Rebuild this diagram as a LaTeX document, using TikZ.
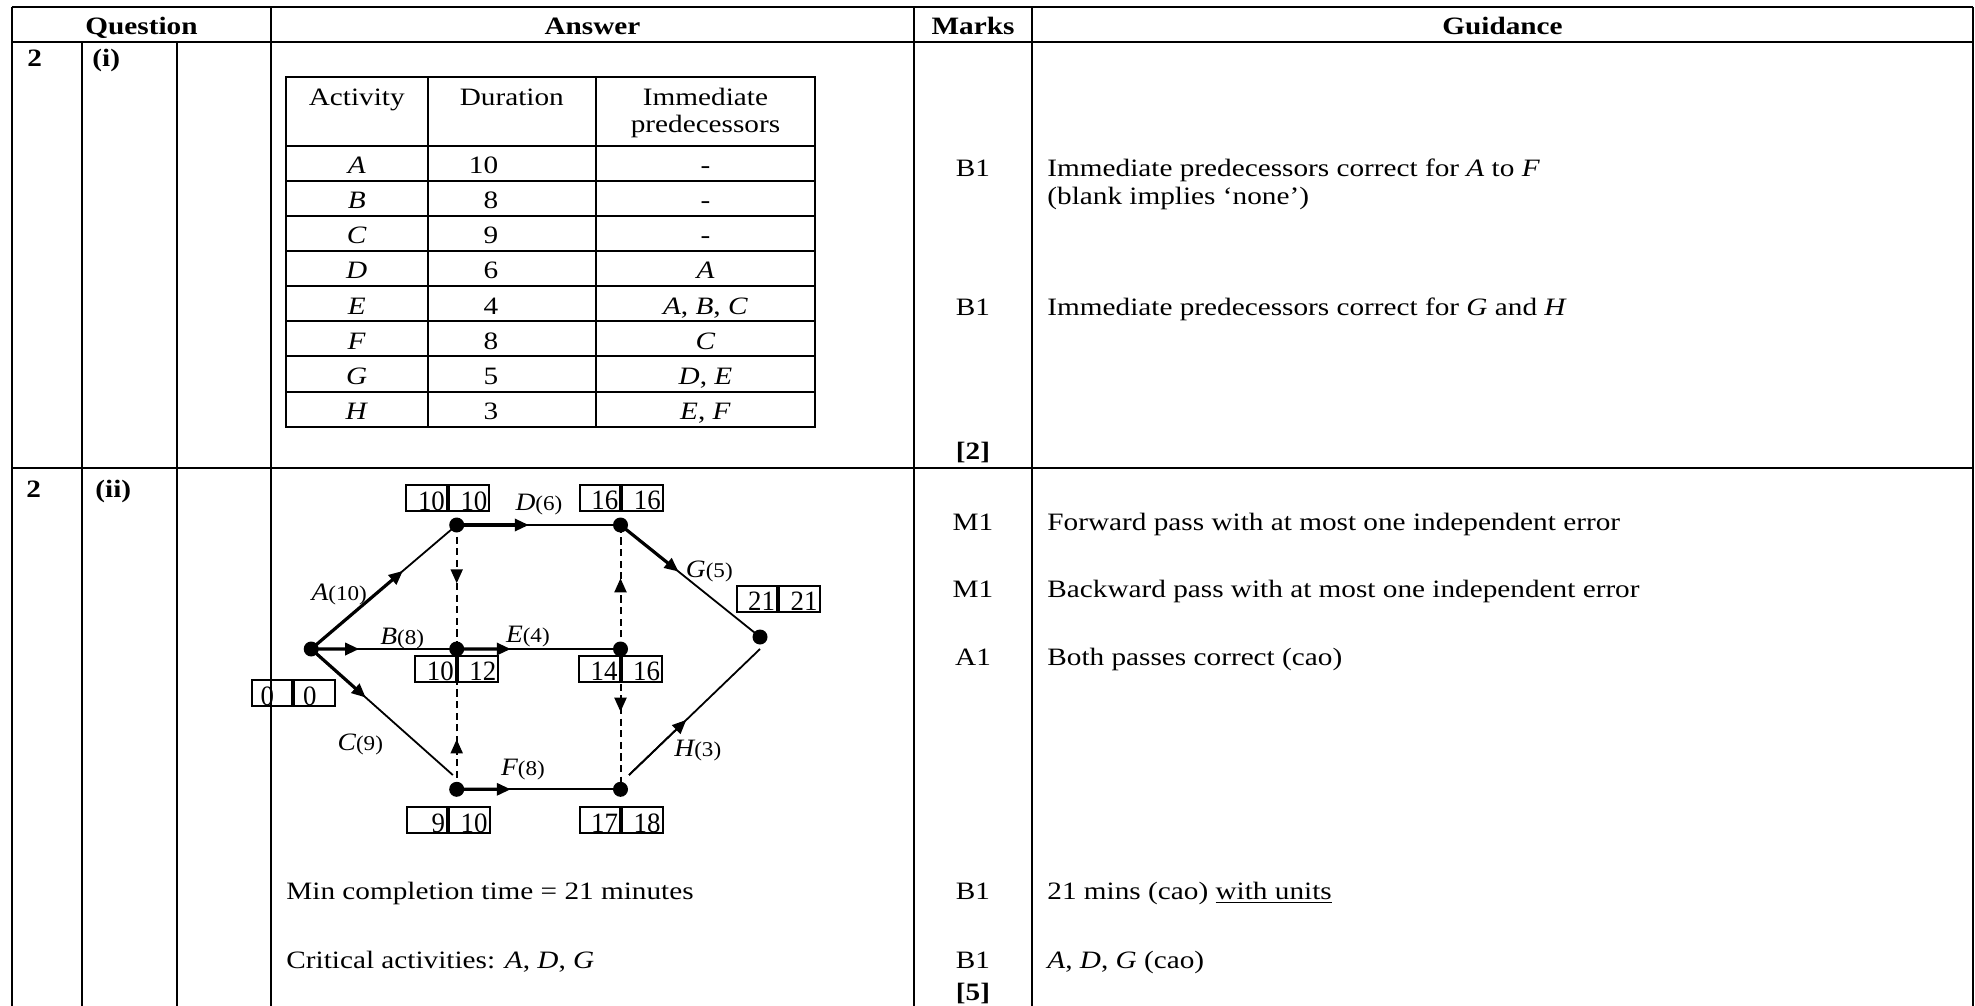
\documentclass[tikz,border=0pt]{standalone}
\usepackage{fontspec}
\setmainfont[FakeStretch=1.17]{Liberation Serif}
\newfontfamily\netfont[FakeStretch=1.1]{Liberation Serif}
\newfontfamily\numfont[FakeStretch=0.96]{Liberation Serif}
\usetikzlibrary{arrows.meta,decorations.markings,calc}
\newcommand\actlab[2]{{\netfont\fontsize{12.5}{13}\selectfont\itshape #1}{\netfont\fontsize{10.5}{11}\selectfont(#2)}}
\begin{document}
\begin{tikzpicture}[x=0.5pt,y=-0.5pt,
  font=\fontsize{12.5}{13.8}\selectfont,
  txt/.style={anchor=base west, inner sep=0pt},
  ctr/.style={anchor=base, inner sep=0pt},
  bold/.style={font=\bfseries\fontsize{12.5}{13.8}\selectfont},
  grid/.style={line width=1pt},
  ingrid/.style={line width=1pt},
  tip/.style={-{Triangle[length=7pt,width=6pt]}},
  edge/.style={line width=0.9pt},
  edgeh/.style={line width=1.6pt, tip},
  dum/.style={line width=1pt, dash pattern=on 3.6pt off 2.2pt},
  dumarrow/.style={decoration={markings, mark=at position #1 with {\arrow{Triangle[length=7pt,width=6pt]}}}, postaction={decorate}},
  cell/.style={draw, line width=1pt, minimum height=13pt, text height=12pt, text depth=0pt,
    inner ysep=0.5pt, inner xsep=1pt, text width=18.25pt, align=right,
    font=\numfont\fontsize{14}{14}\selectfont},
  cellL/.style={cell, align=left, inner xsep=4.5pt, text width=11.25pt},
  lbl/.style={anchor=base west, inner sep=0pt}
]
\useasboundingbox (0,0) rectangle (1975,1006);

% ---------- outer table ----------
\draw[grid] (11.5,7) -- (1973,7);
\draw[line width=1.2pt] (11.5,42) -- (1973,42);
\draw[line width=1.4pt] (11.5,468) -- (1973,468);
\draw[grid] (11.5,7) -- (11.5,1006);
\draw[grid] (82,42) -- (82,1006);
\draw[grid] (177,42) -- (177,1006);
\draw[grid] (271,7) -- (271,1006);
\draw[grid] (914,7) -- (914,1006);
\draw[grid] (1032,7) -- (1032,1006);
\draw[grid] (1973,7) -- (1973,1006);

% headers
\node[ctr, bold] (hQ) at (141.5,35) {Question};
\node[ctr, bold] (hA) at (592.5,35) {Answer};
\node[ctr, bold] (hM) at (973,35) {Marks};
\node[ctr, bold] (hG) at (1502.5,35) {Guidance};

% question numbers
\node[txt, bold] (q1) at (27,67) {2};
\node[txt, bold] (q1p) at (92,67) {(i)};
\node[txt, bold] (q2) at (26,497) {2};
\node[txt, bold] (q2p) at (95,497) {(ii)};

% ---------- inner table ----------
\draw[ingrid] (286,76.7) rectangle (815,427);
\draw[ingrid] (427.5,76.7) -- (427.5,427);
\draw[ingrid] (596,76.7) -- (596,427);
\foreach \yy in {145.7,180.7,215.7,251,286,321.3,356.3,391.7}
  \draw[ingrid] (286,\yy) -- (815,\yy);
\node[ctr] (thA) at (356.8,105) {Activity};
\node[ctr] (thD) at (511.8,105) {Duration};
\node[ctr] (thI1) at (705.5,105) {Immediate};
\node[ctr] (thI2) at (705.5,133) {predecessors};
\foreach \l/\d/\p [count=\i] in {A/10/-, B/8/-, C/9/-, D/6/\textit{A},
    E/4/{\textit{A}, \textit{B}, \textit{C}}, F/8/\textit{C},
    G/5/{\textit{D}, \textit{E}}, H/3/{\textit{E}, \textit{F}}}{
  \node[ctr] (ta\i) at (356.8,{173.2+(\i-1)*35.2}) {\textit{\l}};
  \node[anchor=base east, inner sep=0pt] (td\i) at (498.6,{173.2+(\i-1)*35.2}) {\d};
  \node[ctr] (tp\i) at (705.5,{173.2+(\i-1)*35.2}) {\p};
}

% marks and guidance, part (i)
\node[ctr] (m1) at (973,176.7) {B1};
\node[ctr] (m2) at (973,315) {B1};
\node[ctr, bold] (m3) at (973,459) {[2]};
\node[txt] (g1) at (1047,176.7) {Immediate predecessors correct for \textit{A} to \textit{F}};
\node[txt] (g1b) at (1047,204.3) {(blank implies ‘none’)};
\node[txt] (g2) at (1047,315) {Immediate predecessors correct for \textit{G} and \textit{H}};

% marks and guidance, part (ii)
\node[ctr] (m4) at (973,530) {M1};
\node[ctr] (m5) at (973,597) {M1};
\node[ctr] (m6) at (973,665) {A1};
\node[ctr] (m7) at (973,899.5) {B1};
\node[ctr] (m8) at (973,968) {B1};
\node[ctr, bold] (m9) at (973,1000) {[5]};
\node[txt] (g4) at (1047,530) {Forward pass with at most one independent error};
\node[txt] (g5) at (1047,597) {Backward pass with at most one independent error};
\node[txt] (g6) at (1047,665) {Both passes correct (cao)};
\node[txt] (g7) at (1047,899.5) {21 mins (cao) \underline{with units}};
\node[txt] (g8) at (1047,968) {\textit{A}, \textit{D}, \textit{G} (cao)};

\node[txt] (ans1) at (286,899.5) {Min completion time = 21 minutes};
\node[txt] (ans2) at (286,968) {Critical activities: \textit{A}, \textit{D}, \textit{G}};

% ---------- network ----------
\coordinate (s) at (311.2,649);
\coordinate (a) at (456.7,525);
\coordinate (d) at (620.5,525);
\coordinate (b) at (456.7,649);
\coordinate (e) at (620.5,649);
\coordinate (t) at (760,637);
\coordinate (c) at (456.7,789.3);
\coordinate (f) at (620.5,789.3);
\coordinate (cEnd) at (452.8,775);
\coordinate (hStart) at (629,775);
\coordinate (hEnd) at (760,649);

% dummies
\draw[dum, dumarrow=0.47] (a) -- (b);
\draw[dum, dumarrow=0.356] (c) -- (b);
\draw[dum, dumarrow=0.57] (e) -- (d);
\draw[dum, dumarrow=0.447] (e) -- (f);

% activities
\draw[edge] (s) -- (a);
\draw[edgeh] (s) -- ($(s)!0.63!(a)$);
\draw[edge] (s) -- (b);
\draw[edgeh] (s) -- ($(s)!0.33!(b)$);
\draw[edge] (s) -- (cEnd);
\draw[edgeh] (s) -- ($(s)!0.385!(cEnd)$);
\draw[edge] (a) -- (d);
\draw[edgeh] (a) -- ($(a)!0.44!(d)$);
\draw[edge] (b) -- (e);
\draw[edgeh] (b) -- ($(b)!0.33!(e)$);
\draw[edge] (c) -- (f);
\draw[edgeh] (c) -- ($(c)!0.33!(f)$);
\draw[edge] (d) -- (t);
\draw[edgeh] (d) -- ($(d)!0.416!(t)$);
\draw[edge] (hStart) -- (hEnd);
\draw[edge, tip] (hStart) -- ($(hStart)!0.437!(hEnd)$);

\foreach \n in {s,a,d,b,e,t,c,f}
  \fill (\n) circle[radius=3.75pt];

% activity labels
\node[lbl] (lA) at (311.2,600.7) {\actlab{A}{10}};
\node[lbl] (lB) at (380,644.3) {\actlab{B}{8}};
\node[lbl] (lC) at (337.3,750.7) {\actlab{C}{9}};
\node[lbl] (lD) at (515.2,510) {\actlab{D}{6}};
\node[lbl] (lE) at (505.6,642.7) {\actlab{E}{4}};
\node[lbl] (lF) at (500.7,775) {\actlab{F}{8}};
\node[lbl] (lG) at (685.5,577.3) {\actlab{G}{5}};
\node[lbl] (lH) at (674,756) {\actlab{H}{3}};

% event boxes
\node[cell, anchor=south east] (bAl) at (447.9,512.3) {10};
\node[cell, anchor=south west] (bAr) at (447.9,512.3) {10};
\node[cell, anchor=south east] (bDl) at (621.2,511.7) {16};
\node[cell, anchor=south west] (bDr) at (621.2,511.7) {16};
\node[cell, anchor=south east] (bTl) at (778,612.7) {21};
\node[cell, anchor=south west] (bTr) at (778,612.7) {21};
\node[cell, anchor=south east] (bBl) at (456.7,682.7) {10};
\node[cell, anchor=south west] (bBr) at (456.7,682.7) {12};
\node[cell, anchor=south east] (bEl) at (620.5,682.7) {14};
\node[cell, anchor=south west] (bEr) at (620.5,682.7) {16};
\node[cellL, anchor=south east] (bSl) at (293.2,707.3) {0};
\node[cellL, anchor=south west] (bSr) at (293.2,707.3) {0};
\node[cell, anchor=south east] (bCl) at (448,834) {9};
\node[cell, anchor=south west] (bCr) at (448,834) {10};
\node[cell, anchor=south east] (bFl) at (621,834) {17};
\node[cell, anchor=south west] (bFr) at (621,834) {18};
\end{tikzpicture}
\end{document}
